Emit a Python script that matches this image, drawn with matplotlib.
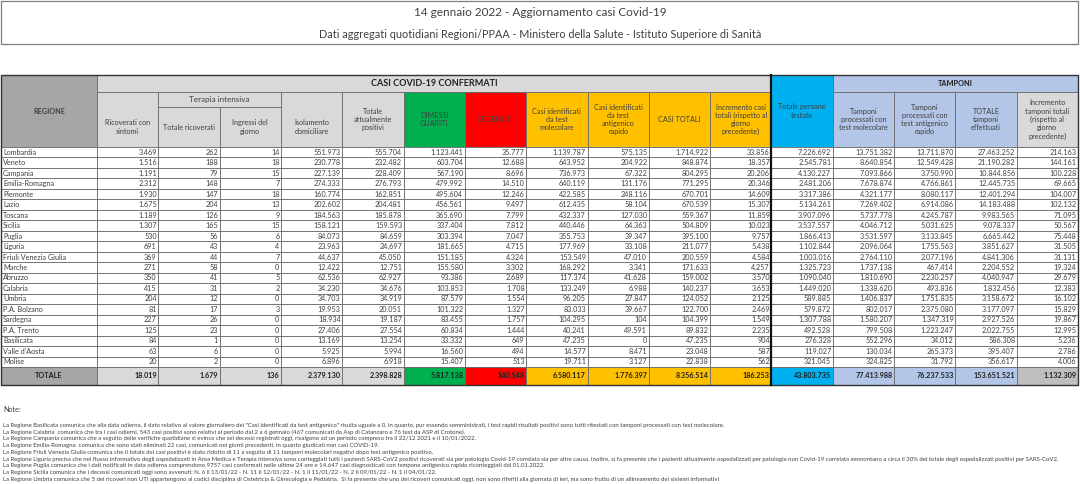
import matplotlib
matplotlib.use("Agg")
import matplotlib.pyplot as plt
from matplotlib.patches import Rectangle

plt.rcParams['font.family'] = ['Lato', 'DejaVu Sans']

# ---- data read from the bulletin (14 gennaio 2022) ----
title = "14 gennaio 2022 - Aggiornamento casi Covid-19"
subtitle = "Dati aggregati quotidiani Regioni/PPAA - Ministero della Salute - Istituto Superiore di Sanità"

regioni = ["Lombardia", "Veneto", "Campania", "Emilia-Romagna", "Piemonte", "Lazio", "Toscana",
           "Sicilia", "Puglia", "Liguria", "Friuli Venezia Giulia", "Marche", "Abruzzo", "Calabria",
           "Umbria", "P.A. Bolzano", "Sardegna", "P.A. Trento", "Basilicata", "Valle d'Aosta", "Molise"]

ricoverati = [3469, 1516, 1191, 2312, 1930, 1675, 1189, 1307, 530, 691, 369, 271, 350, 415, 204, 81, 227, 125, 84, 63, 20]
terapia_tot = [262, 188, 79, 148, 147, 204, 126, 165, 56, 43, 44, 58, 41, 31, 12, 17, 26, 23, 1, 6, 2]
ingressi = [14, 18, 15, 7, 18, 13, 9, 15, 6, 4, 7, 0, 5, 2, 0, 3, 0, 0, 0, 0, 0]
isolamento = [551973, 230778, 227139, 274333, 160774, 202602, 184563, 158121, 84073, 23963, 44637,
              12422, 62536, 34230, 34703, 19953, 18934, 27406, 13169, 5925, 6896]
tot_positivi = [555704, 232482, 228409, 276793, 162851, 204481, 185878, 159593, 84659, 24697, 45050,
                12751, 62927, 34676, 34919, 20051, 19187, 27554, 13254, 5994, 6918]
dimessi = [1123441, 603704, 567190, 479992, 495604, 456561, 365690, 337404, 303394, 181665, 151185,
           155580, 93386, 103853, 87579, 101322, 83455, 60834, 33332, 16560, 15407]
deceduti = [35777, 12688, 8696, 14510, 12246, 9497, 7799, 7812, 7047, 4715, 4324,
            3302, 2689, 1708, 1554, 1327, 1757, 1444, 649, 494, 513]
casi_mol = [1139787, 643952, 736973, 640119, 422585, 612435, 432337, 440446, 355753, 177969, 153549,
            168292, 117374, 133249, 96205, 83033, 104295, 40241, 47235, 14577, 19711]
casi_ant = [575135, 204922, 67322, 131176, 248116, 58104, 127030, 64363, 39347, 33108, 47010,
            3341, 41628, 6988, 27847, 39667, 104, 49591, 0, 8471, 3127]
casi_tot = [1714922, 848874, 804295, 771295, 670701, 670539, 559367, 504809, 395100, 211077, 200559,
            171633, 159002, 140237, 124052, 122700, 104399, 89832, 47235, 23048, 22838]
incremento = [33856, 18357, 20206, 20346, 14609, 15307, 11859, 10023, 9757, 5438, 4584,
              4257, 3570, 3653, 2125, 2469, 1549, 2235, 904, 587, 562]
persone = [7226692, 2545781, 4130227, 2481206, 3317386, 5134261, 3907096, 3537557, 1866413, 1102844, 1003016,
           1325723, 1090040, 1449020, 589885, 579872, 1307788, 492528, 276328, 119027, 321045]
tamp_mol = [13751382, 8640854, 7093866, 7678874, 4321177, 7269402, 5737778, 4046712, 3531597, 2096064, 2764110,
            1737138, 1810690, 1338620, 1406837, 802017, 1580207, 799508, 552296, 130034, 324825]
tamp_ant = [13711870, 12549428, 3750990, 4766861, 8080117, 6914086, 4245787, 5031625, 3133845, 1755563, 2077196,
            467414, 2230257, 493836, 1751835, 2375080, 1347319, 1223247, 34012, 265373, 31792]
tamp_tot = [27463252, 21190282, 10844856, 12445735, 12401294, 14183488, 9983565, 9078337, 6665442, 3851627, 4841306,
            2204552, 4040947, 1832456, 3158672, 3177097, 2927526, 2022755, 586308, 395407, 356617]
incr_tamp = [214163, 144161, 100228, 69665, 104007, 102132, 71095, 50567, 75448, 31505, 31131,
             19324, 29679, 12383, 16102, 15829, 19867, 12995, 5236, 2786, 4006]

totali = [18019, 1679, 136, 2379130, 2398828, 5817138, 140548, 6580117, 1776397, 8356514, 186253,
          43803735, 77413988, 76237533, 153651521, 1132309]

intestazioni = ["Ricoverati con\nsintomi", "Totale ricoverati", "Ingressi del\ngiorno",
                "Isolamento\ndomiciliare", "Totale\nattualmente\npositivi", "DIMESSI\nGUARITI", "DECEDUTI",
                "Casi identificati\nda test\nmolecolare", "Casi identificati\nda test\nantigenico\nrapido",
                "CASI TOTALI", "Incremento casi\ntotali (rispetto al\ngiorno\nprecedente)",
                "Totale persone\ntestate", "Tamponi\nprocessati con\ntest molecolare",
                "Tamponi\nprocessati con\ntest antigenico\nrapido", "TOTALE\ntamponi\neffettuati",
                "Incremento\ntamponi totali\n(rispetto al\ngiorno\nprecedente)"]

note = [
    "La Regione Basilicata comunica che alla data odierna, il dato relativo al valore giornaliero dei \"Casi identificati da test antigenico\" risulta uguale a 0, in quanto, pur essendo somministrati, i test rapidi risultati positivi sono tutti ritestati con tamponi processati con test molecolare.",
    "La Regione Calabria  comunica che tra i casi odierni, 543 casi positivi sono relativi al periodo dal 2 a 6 gennaio (467 comunicati da Asp di Catanzaro e 76 test da ASP di Crotone).",
    "La Regione Campania comunica che a seguito delle verifiche quotidiane si evince che sei decessi registrati oggi, risalgono ad un periodo compreso tra il 22/12 2021 e il 10/01/2022.",
    "La Regione Emilia-Romagna  comunica che sono stati eliminati 22 casi, comunicati nei giorni precedenti, in quanto giudicati non casi COVID-19.",
    "La Regione Friuli Venezia Giulia comunica che il totale dei casi positivi è stato ridotto di 11 a seguito di 11 tamponi molecolari negativi dopo test antigenico positivo.",
    "La Regione Liguria precisa che nel flusso informativo degli ospedalizzati in Area Medica e Terapia Intensiva sono conteggiati tutti i pazienti SARS-CoV2 positivi ricoverati sia per patologia Covid-19 correlata sia per altre causa. Inoltre, si fa presente che i pazienti attualmente ospedalizzati per patologia non Covid-19 correlata ammontano a circa il 30% del totale degli ospedalizzati positivi per SARS-CoV2.",
    "La Regione Puglia comunica che i dati notificati in data odierna comprendono 9757 casi confermati nelle ultime 24 ore e 14.647 casi diagnosticati con tampone antigenico rapido riconteggiati dal 01.01.2022.",
    "La Regione Sicilia comunica che i decessi comunicati oggi sono avvenuti: N. 6 il 13/01/22 - N. 11 il 12/01/22 - N. 1 il 11/01/22 - N. 2 il 09/01/22 - N. 1 il 04/01/22.",
    "La Regione Umbria comunica che 5 dei ricoveri non UTI appartengono ai codici disciplina di Ostetricia & Ginecologia e Pediatria.  Si fa presente che uno dei ricoveri comunicati oggi, non sono riferiti alla giornata di ieri, ma sono frutto di un allineamento dei sistemi informativi",
]

colonne = [ricoverati, terapia_tot, ingressi, isolamento, tot_positivi, dimessi, deceduti,
           casi_mol, casi_ant, casi_tot, incremento, persone, tamp_mol, tamp_ant, tamp_tot, incr_tamp]

# ---- colours ----
GRIGIO = '#D9D9D9'
GRIGIO_SCURO = '#A6A6A6'
VERDE = '#00B050'
ROSSO = '#FF0000'
ARANCIO = '#FFC000'
AZZURRO = '#00B0F0'
LILLA = '#B4C6E7'
TESTO = '#404040'
BORDO = '#6a6a6a'

fill_head = [GRIGIO] * 5 + [VERDE, ROSSO] + [ARANCIO] * 4 + [AZZURRO] + [LILLA] * 3 + [GRIGIO]
fill_tot = [GRIGIO] * 5 + [VERDE, ROSSO] + [ARANCIO] * 4 + [AZZURRO] + [LILLA] * 3 + ['#BFBFBF']


def fmt(v):
    return f"{v:,}".replace(",", ".")


# ---- layout in pixels (y grows downward) ----
W, H = 1080, 484
fig = plt.figure(figsize=(W / 100, H / 100), dpi=100)
ax = fig.add_axes([0, 0, 1, 1])
ax.set_xlim(0, W)
ax.set_ylim(H, 0)
ax.axis('off')

left, reg_right, right = 1, 97, 1078
ncol = len(colonne)
col_w = (right - reg_right) / ncol
xs = [reg_right + i * col_w for i in range(ncol + 1)]

top, grp_bot, ti_bot, head_bot = 75, 92, 107, 147
row_h = (367 - head_bot) / len(regioni)
tot_top = head_bot + row_h * len(regioni)
tot_bot = 385

FS_HEAD = 5.2
FS_DATA = 5.2


def box(x0, y0, x1, y1, fc, lw=0.6, ec=BORDO):
    ax.add_patch(Rectangle((x0, y0), x1 - x0, y1 - y0, facecolor=fc, edgecolor=ec, linewidth=lw))


# title box
box(1, 1, right, 44, 'white', lw=0.9, ec='#7f7f7f')
ax.text(W / 2, 13, title, ha='center', va='center', fontsize=8.5, color=TESTO)
ax.text(W / 2, 34, subtitle, ha='center', va='center', fontsize=7.8, color=TESTO)

# header: REGIONE and group cells
box(left, top, reg_right, head_bot, GRIGIO_SCURO)
ax.text((left + reg_right) / 2, (top + head_bot) / 2, "REGIONE", ha='center', va='center',
        fontsize=FS_HEAD, fontweight='bold', color=TESTO)

box(xs[0], top, xs[11], grp_bot, GRIGIO)
ax.text((xs[0] + xs[11]) / 2, (top + grp_bot) / 2 + 0.5, "CASI COVID-19 CONFERMATI", ha='center', va='center',
        fontsize=6.5, fontweight='bold', color='#202020')
box(xs[12], top, xs[16], grp_bot, LILLA)
ax.text((xs[12] + xs[16]) / 2, (top + grp_bot) / 2 + 0.5, "TAMPONI", ha='center', va='center',
        fontsize=5.3, fontweight='bold', color='#202020')
box(xs[1], grp_bot, xs[3], ti_bot, GRIGIO)
ax.text((xs[1] + xs[3]) / 2, (grp_bot + ti_bot) / 2, "Terapia intensiva", ha='center', va='center',
        fontsize=5.8, color=TESTO)

# header: single column cells
for j, lab in enumerate(intestazioni):
    if j == 11:
        y0 = top
    elif j in (1, 2):
        y0 = ti_bot
    else:
        y0 = grp_bot
    box(xs[j], y0, xs[j + 1], head_bot, fill_head[j])
    yc = (y0 + head_bot) / 2
    if j in (0, 3):
        yc = (ti_bot + head_bot) / 2
    ax.text((xs[j] + xs[j + 1]) / 2, yc, lab, ha='center', va='center', fontsize=FS_HEAD,
            color=TESTO, linespacing=1.2)

# data rows
for i, reg in enumerate(regioni):
    y0 = head_bot + i * row_h
    y1 = y0 + row_h
    box(left, y0, reg_right, y1, 'white')
    ax.text(left + 2, (y0 + y1) / 2, reg, ha='left', va='center', fontsize=FS_DATA, color=TESTO)
    for j, col in enumerate(colonne):
        box(xs[j], y0, xs[j + 1], y1, 'white')
        ax.text(xs[j + 1] - 1.5, (y0 + y1) / 2, fmt(col[i]), ha='right', va='center',
                fontsize=FS_DATA, color=TESTO)

# totals row
box(left, tot_top, reg_right, tot_bot, GRIGIO_SCURO)
ax.text((left + reg_right) / 2, (tot_top + tot_bot) / 2, "TOTALE", ha='center', va='center',
        fontsize=FS_DATA, fontweight='bold', color='#202020')
for j, v in enumerate(totali):
    box(xs[j], tot_top, xs[j + 1], tot_bot, fill_tot[j])
    ax.text(xs[j + 1] - 1.5, (tot_top + tot_bot) / 2, fmt(v), ha='right', va='center',
            fontsize=FS_DATA, fontweight='bold', color='#202020')

# thick separator before "Totale persone testate" and outer frame
ax.plot([xs[11], xs[11]], [top, tot_bot], color='#111111', linewidth=1.6)
box(left, top, right, tot_bot, 'none', lw=1.0, ec='#333333')

# notes
ax.text(3, 409, "Note:", ha='left', va='center', fontsize=5.2, color=TESTO)
for k, riga in enumerate(note):
    ax.text(3, 425 + k * 6.8, riga, ha='left', va='center', fontsize=4.35, color=TESTO)

fig.savefig("out.png", dpi=100, facecolor='white')
